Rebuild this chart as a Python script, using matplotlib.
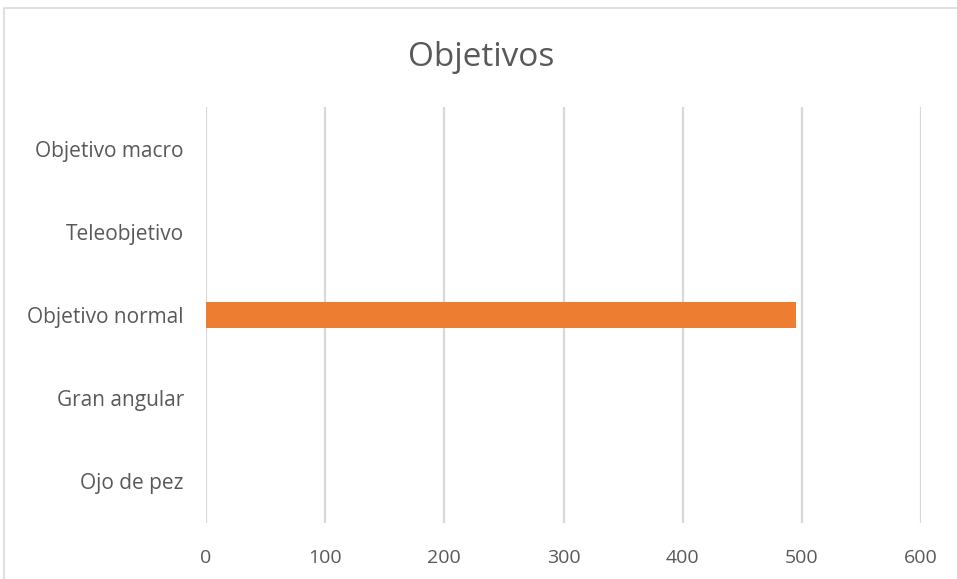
import matplotlib
matplotlib.use("Agg")
import matplotlib.pyplot as plt
from matplotlib.patches import Rectangle

plt.rcParams['font.family'] = ['Open Sans', 'DejaVu Sans']

categories = ["Ojo de pez", "Gran angular", "Objetivo normal", "Teleobjetivo", "Objetivo macro"]
values = [0, 0, 495, 0, 0]
x_ticks = [0, 100, 200, 300, 400, 500, 600]
title = "Objetivos"

text_color = "#595959"
grid_color = "#d9d9d9"
bar_color = "#ed7d31"

W, H = 957, 579
fig = plt.figure(figsize=(W / 100, H / 100), dpi=100)
fig.patch.set_facecolor("white")

# chart frame (continues past the right and bottom edges)
fig.patches.append(Rectangle((4 / W, -0.1), 1.2, 1 - 8 / H + 0.1,
                             transform=fig.transFigure, fill=False,
                             edgecolor=grid_color, linewidth=1.2, clip_on=False))

left, right, top, bottom = 206, 921, 107, 523
ax = fig.add_axes([left / W, 1 - bottom / H, (right - left) / W, (bottom - top) / H])

y = range(len(categories))
ax.barh(y, values, height=0.31, color=bar_color, zorder=3)

ax.set_xlim(0, 600)
ax.set_ylim(-0.5, len(categories) - 0.5)
ax.set_xticks(x_ticks)
ax.set_xticklabels([str(t) for t in x_ticks])
ax.set_yticks(list(y))
ax.set_yticklabels(categories)

ax.grid(axis="x", color=grid_color, linewidth=1.6, zorder=0)
ax.set_axisbelow(True)
for s in ax.spines.values():
    s.set_visible(False)
ax.tick_params(axis="both", length=0, colors=text_color)
ax.tick_params(axis="x", pad=18.5, labelsize=14)
ax.tick_params(axis="y", pad=16, labelsize=15)

fig.text(481 / W, 1 - 58 / H, title, ha="center", va="center",
         fontsize=24, color=text_color)

fig.savefig("out.png", dpi=100, facecolor="white")
